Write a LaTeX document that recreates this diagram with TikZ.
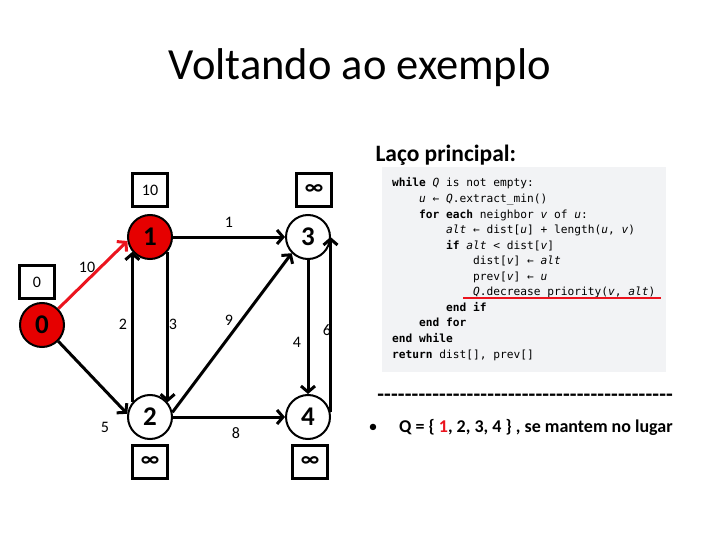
\documentclass[tikz,border=0pt]{standalone}
\usepackage{fontspec}
\setmainfont{Carlito}
\setmonofont{DejaVu Sans Mono}
\usetikzlibrary{arrows.meta}
\definecolor{nodered}{RGB}{230,0,0}
\definecolor{edgered}{RGB}{235,20,30}
\definecolor{codebg}{RGB}{242,243,245}
\begin{document}
\begin{tikzpicture}[x=1pt,y=-1pt,
  vtx/.style={circle,draw=black,line width=2pt,minimum size=44pt,inner sep=0pt,
    font=\fontsize{27}{30}\selectfont\bfseries,fill=white},
  dbox/.style={draw=black,line width=2.2pt,minimum width=35pt,minimum height=33pt,inner sep=0pt,
    font=\fontsize{16}{18}\selectfont},
  infbox/.style={dbox,font=\fontsize{22}{24}\selectfont\bfseries},
  arr/.style={line width=3pt,-{Straight Barb[length=6pt,width=14pt,line width=3pt]}},
  wlab/.style={font=\fontsize{16}{18}\selectfont,inner sep=0pt},
  code/.style={anchor=base west,inner sep=0pt,font=\ttfamily\fontsize{11.2}{13}\selectfont}]
\useasboundingbox (0,0) rectangle (720,540);
\fill[white] (0,0) rectangle (720,540);

% title
\node[font=\fontsize{44.5}{48}\selectfont] (title) at (360,68) {Voltando ao exemplo};
\node[font=\fontsize{23.5}{26}\selectfont\bfseries,anchor=west] (laco) at (372,155) {Laço principal:};

% code block
\fill[codebg] (382,167) rectangle (666,372);
\node[code] (c1) at (392,187.0) {\textbf{while} \textit{Q} is not empty:};
\node[code] (c2) at (419,202.5) {\textit{u} ← \textit{Q}.extract\_min()};
\node[code] (c3) at (419,218.1) {\textbf{for each} neighbor \textit{v} of \textit{u}:};
\node[code] (c4) at (446,233.6) {\textit{alt} ← dist[\textit{u}] + length(\textit{u}, \textit{v})};
\node[code] (c5) at (446,249.2) {\textbf{if} \textit{alt} < dist[\textit{v}]};
\node[code] (c6) at (473,264.7) {dist[\textit{v}] ← \textit{alt}};
\node[code] (c7) at (473,280.3) {prev[\textit{v}] ← \textit{u}};
\node[code] (c8) at (473,295.8) {\textit{Q}.decrease\_priority(\textit{v}, \textit{alt})};
\node[code] (c9) at (446,311.4) {\textbf{end if}};
\node[code] (c10) at (419,326.9) {\textbf{end for}};
\node[code] (c11) at (392,342.5) {\textbf{end while}};
\node[code] (c12) at (392,358.0) {\textbf{return} dist[], prev[]};
\coordinate (ul1) at (463,298);
\coordinate (ul2) at (661,298);
\draw[edgered,line width=2pt] (ul1) -- (ul2);

% dashes and bullet
\node[inner sep=0pt,anchor=west,font=\fontsize{22}{24}\selectfont\bfseries] (dash) at (377,398)
  {\hbox to 296pt{\xleaders\hbox{-}\hfill}};
\node[inner sep=0pt,font=\fontsize{18}{20}\selectfont] (bul) at (373,428) {•};
\node[inner sep=0pt,anchor=west,font=\fontsize{18}{20}\selectfont\bfseries] (qtxt) at (399,427)
  {Q = \{ \textcolor{edgered}{1}, 2, 3, 4 \} , se mantem no lugar};

% graph nodes
\node[vtx,fill=nodered] (n0) at (42,325) {0};
\node[vtx,fill=nodered] (n1) at (150,237) {1};
\node[vtx] (n2) at (150,417) {2};
\node[vtx] (n3) at (308,237) {3};
\node[vtx] (n4) at (308,417) {4};

% distance boxes
\node[dbox] (b0) at (37,282) {0};
\node[dbox] (b1) at (150,190) {10};
\node[infbox] (b3) at (314,190) {∞};
\node[infbox] (b2) at (150,462) {∞};
\node[infbox] (b4) at (310,462) {∞};

% edges
\draw[arr,edgered] (n0.45) -- (n1.190);
\draw[arr] (n0.-45) -- (n2.172);
\draw[arr] (n2.140) -- (n1.220);
\draw[arr] (n1.-40) -- (n2.40);
\draw[arr] (n1.east) -- (n3.west);
\draw[arr] (n2.east) -- (n4.west);
\draw[arr] (n2.12) -- (n3.225);
\draw[arr] (n3.south) -- (n4.north);
\draw[arr] (n4.12) -- (n4.12 |- n3.east);

% weights
\node[wlab] (w01) at (87,267) {10};
\node[wlab] (w02) at (105,427) {5};
\node[wlab] (w21) at (123,324) {2};
\node[wlab] (w12) at (173,324) {3};
\node[wlab] (w13) at (229,222) {1};
\node[wlab] (w23) at (229,320) {9};
\node[wlab] (w24) at (236,433) {8};
\node[wlab] (w34) at (297,342) {4};
\node[wlab] (w43) at (327,330) {6};
\end{tikzpicture}
\end{document}
